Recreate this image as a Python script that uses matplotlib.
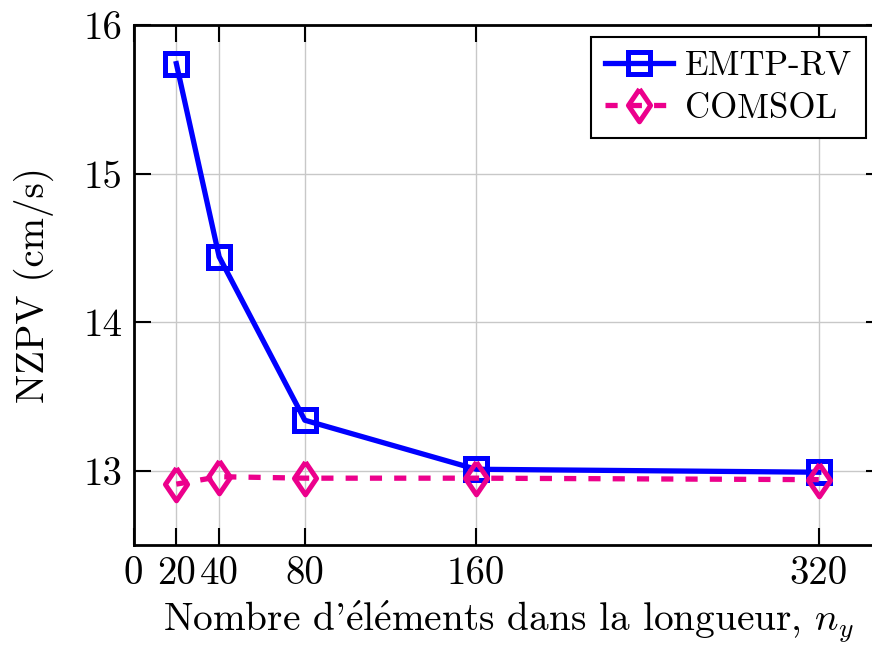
import matplotlib.pyplot as plt

# mesh refinement study: number of elements along the length
n_elements = [20, 40, 80, 160, 320]
nzpv_emtp = [15.74, 14.44, 13.34, 13.01, 12.99]
nzpv_comsol = [12.91, 12.96, 12.95, 12.95, 12.94]

x_ticks = [0, 20, 40, 80, 160, 320]
y_ticks = [13, 14, 15, 16]

plt.rcParams['font.family'] = ['cmr10', 'DejaVu Serif']
plt.rcParams['mathtext.fontset'] = 'cm'
plt.rcParams['axes.unicode_minus'] = False
plt.rcParams['font.size'] = 28

# slim diamond marker
diamond = [(0, 1), (0.68, 0), (0, -1), (-0.68, 0), (0, 1)]

fig = plt.figure(figsize=(8.72, 6.46), dpi=100)
# right spine sits just past the figure edge
ax = fig.add_axes([0.1531, 0.1563, 0.8595, 0.805])

ax.plot(n_elements, nzpv_emtp, color='#0000FF', lw=3.8, marker='s',
        markersize=15.5, markeredgewidth=3.6, markerfacecolor='none',
        label='EMTP-RV', zorder=3)
ax.plot(n_elements, nzpv_comsol, color='#EC008C', lw=3.8,
        linestyle=(0, (2.3, 2.3)), marker=diamond, markersize=23.5,
        markeredgewidth=3.6, markerfacecolor='none', label='COMSOL', zorder=4)

ax.set_xlim(0, 350)
ax.set_ylim(12.5, 16)
ax.set_xticks(x_ticks)
ax.set_yticks(y_ticks)
ax.grid(True, color='#c8c8c8', lw=1)
ax.set_axisbelow(True)

ax.tick_params(direction='in', top=True, right=True, length=12, width=1.5,
               pad=8)
for s in ax.spines.values():
    s.set_linewidth(2)

ax.set_xlabel(r"Nombre d'$\mathrm{\acute{e}}$l$\mathrm{\acute{e}}$ments "
              r"dans la longueur, $n_y$", fontsize=28.3, labelpad=5)
ax.set_ylabel('NZPV (cm/s)', labelpad=21)

leg = ax.legend(loc='upper right', fontsize=25, fancybox=False,
                edgecolor='black', framealpha=1, handlelength=1.96,
                handletextpad=0.35, borderpad=0.4, labelspacing=0.3,
                borderaxespad=0, bbox_to_anchor=(0.9773, 0.977))
leg.get_frame().set_linewidth(1.5)

fig.savefig('out.png', dpi=100)
